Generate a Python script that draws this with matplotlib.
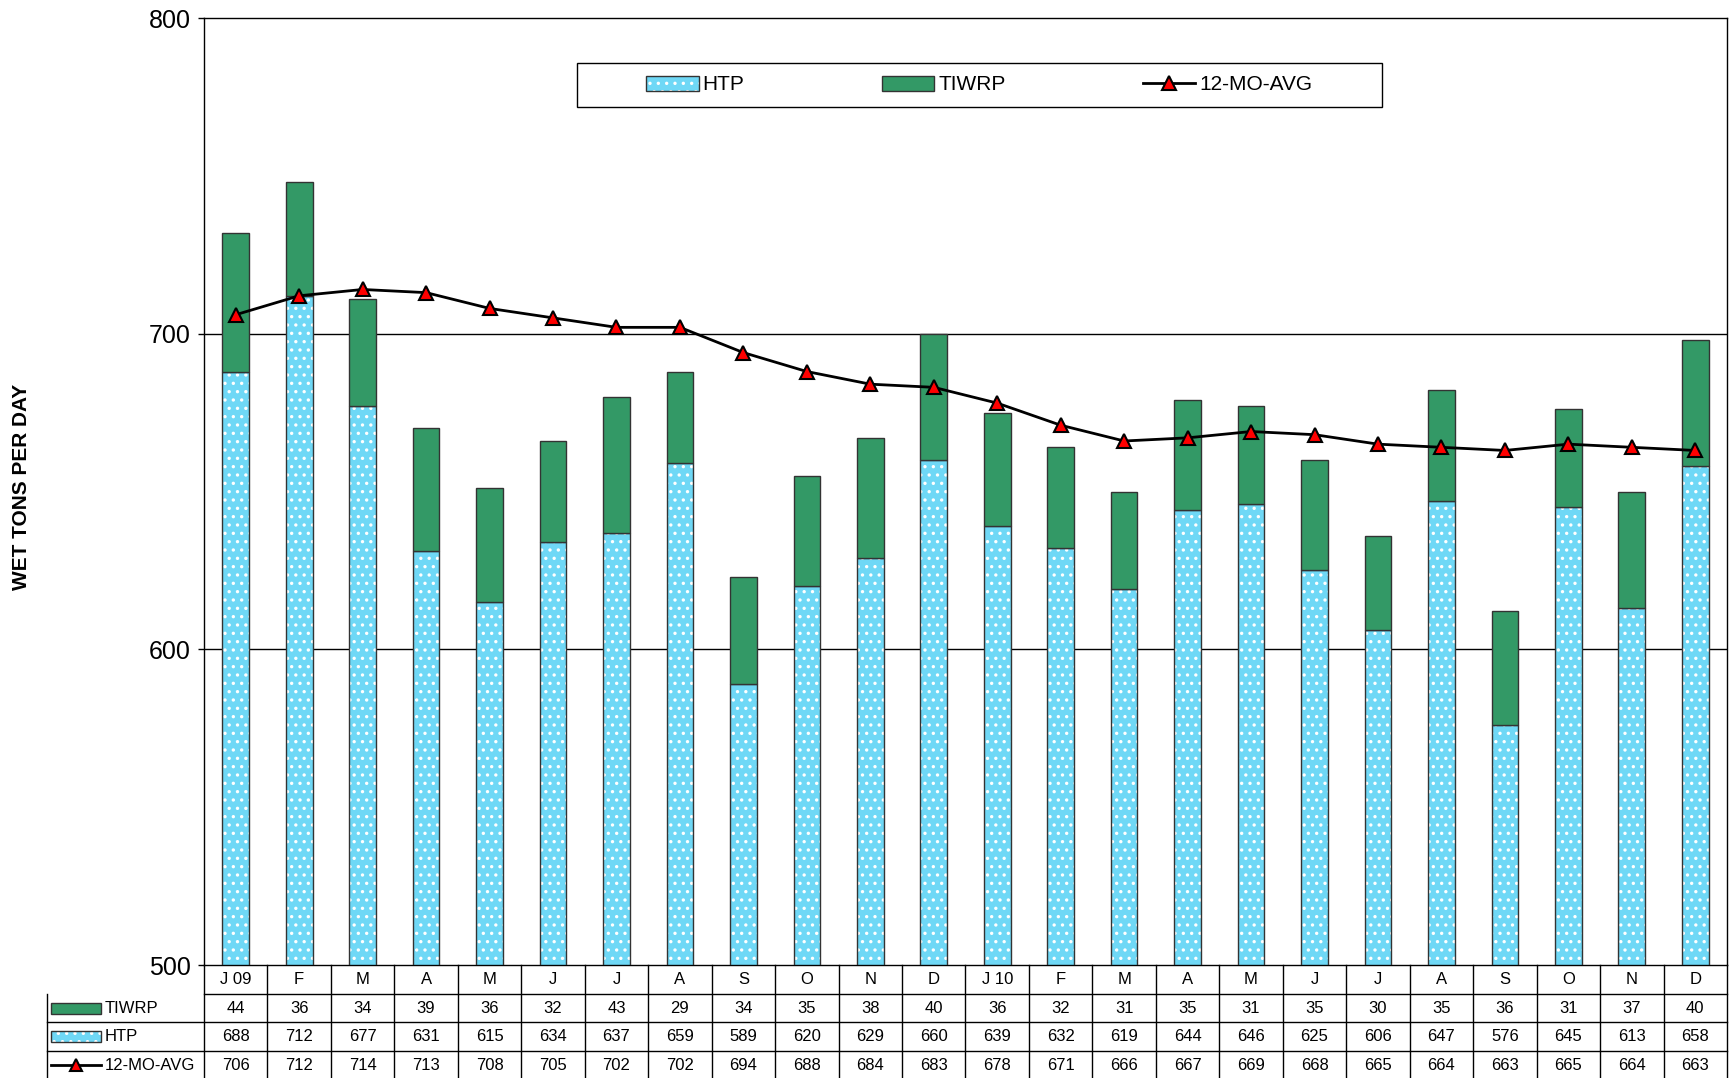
import numpy as np
import matplotlib
matplotlib.use('Agg')
import matplotlib.pyplot as plt
from matplotlib.patches import Rectangle
from matplotlib.lines import Line2D

#%% data
months = ['J 09', 'F', 'M', 'A', 'M', 'J', 'J', 'A', 'S', 'O', 'N', 'D',
          'J 10', 'F', 'M', 'A', 'M', 'J', 'J', 'A', 'S', 'O', 'N', 'D']
tiwrp = [44, 36, 34, 39, 36, 32, 43, 29, 34, 35, 38, 40,
         36, 32, 31, 35, 31, 35, 30, 35, 36, 31, 37, 40]
htp = [688, 712, 677, 631, 615, 634, 637, 659, 589, 620, 629, 660,
       639, 632, 619, 644, 646, 625, 606, 647, 576, 645, 613, 658]
avg12 = [706, 712, 714, 713, 708, 705, 702, 702, 694, 688, 684, 683,
         678, 671, 666, 667, 669, 668, 665, 664, 663, 665, 664, 663]
yticks = [500, 600, 700, 800]

#%% colours / styles
cHTP = '#6FD8F6'
cTIW = '#339966'
cEdge = '#333333'

plt.rcParams['font.family'] = ['Liberation Sans', 'DejaVu Sans']
plt.rcParams['hatch.linewidth'] = 1.2

W, H = 1731, 1078
fig = plt.figure(figsize=(W/100., H/100.), dpi=100)
ax = fig.add_axes([204./W, (H-965.)/H, (1727.-204.)/W, 947./H])

x = np.arange(len(months))
bw = 0.42

# HTP: hatched fill, then outline on top
b1 = ax.bar(x, htp, bw, color=cHTP, hatch='..', edgecolor='white', linewidth=0, zorder=2)
b1o = ax.bar(x, htp, bw, fill=False, edgecolor=cEdge, linewidth=1, zorder=3)
b2 = ax.bar(x, tiwrp, bw, bottom=htp, color=cTIW, edgecolor=cEdge, linewidth=1, zorder=3)
ln, = ax.plot(x, avg12, color='black', lw=2, marker='^', markersize=9.5,
              markerfacecolor='red', markeredgecolor='black', markeredgewidth=1.5, zorder=5)

ax.set_xlim(-0.5, len(months)-0.5)
ax.set_ylim(500, 800)
ax.set_yticks(yticks)
ax.set_yticklabels([str(v) for v in yticks], fontsize=18)
ax.tick_params(axis='y', direction='out', length=4.5, width=1, pad=5)
ax.set_xticks([])
for yv in yticks[1:-1]:
    ax.axhline(yv, color='black', lw=1, zorder=1)
for s in ax.spines.values():
    s.set_linewidth(1)
    s.set_color('black')

fig.text(22./W, 0.548, 'WET TONS PER DAY', rotation=90, ha='center', va='center',
         fontsize=15, fontweight='bold')

# legend: frame drawn separately, entries centred inside it
fx0, fx1 = (577.-204.)/1523., (1382.-204.)/1523.
fy0, fy1 = (965.-107.)/947., (965.-63.)/947.
ax.add_patch(Rectangle((fx0, fy0), fx1-fx0, fy1-fy0, transform=ax.transAxes,
                       facecolor='white', edgecolor='black', lw=1, zorder=6))
leg = ax.legend([(b1[0], b1o[0]), b2[0], ln], ['HTP', 'TIWRP', '12-MO-AVG'],
                loc='center', bbox_to_anchor=((fx0+fx1)/2, (fy0+fy1)/2),
                ncol=3, fontsize=15, frameon=False, columnspacing=6.6,
                handlelength=2.5, handleheight=0.75, handletextpad=0.2,
                borderaxespad=0)
leg.set_zorder(7)

#%% data table below the axes
rh = 28.7/947.
n = len(months)
tr = ax.transAxes
lx = -(204.-47.)/1523.  # left edge of row-label column
kw = dict(transform=tr, clip_on=False, color='black', lw=1)

# header row (month names)
for i, m in enumerate(months):
    ax.text((i+0.5)/n, -0.5*rh, m, transform=tr, ha='center', va='center', fontsize=12)
rows = [('TIWRP', tiwrp), ('HTP', htp), ('12-MO-AVG', avg12)]
for r, (lab, vals) in enumerate(rows):
    yc = -(r+1.5)*rh
    for i, v in enumerate(vals):
        ax.text((i+0.5)/n, yc, str(v), transform=tr, ha='center', va='center', fontsize=12)
    ax.text(lx + 58./1523., yc, lab, transform=tr, ha='left', va='center', fontsize=12)

# grid lines of the table
for k in range(1, 5):
    x0 = 0 if k == 1 else lx
    ax.add_line(Line2D([x0, 1], [-k*rh, -k*rh], **kw))
for i in range(n+1):
    ax.add_line(Line2D([i/n, i/n], [0, -4*rh], **kw))
ax.add_line(Line2D([lx, lx], [-rh, -4*rh], **kw))

# legend keys in the row-label cells
kx0 = lx + 4./1523.
kwid = 50./1523.
khh = 11./947.
ax.add_patch(Rectangle((kx0, -1.5*rh - khh/2), kwid, khh, transform=tr, clip_on=False,
                       facecolor=cTIW, edgecolor=cEdge, lw=1))
ax.add_patch(Rectangle((kx0, -2.5*rh - khh/2), kwid, khh, transform=tr, clip_on=False,
                       facecolor=cHTP, edgecolor='white', hatch='..', lw=0))
ax.add_patch(Rectangle((kx0, -2.5*rh - khh/2), kwid, khh, transform=tr, clip_on=False,
                       fill=False, edgecolor=cEdge, lw=1))
ax.add_line(Line2D([kx0, kx0+kwid/2, kx0+kwid], [-3.5*rh]*3, transform=tr, clip_on=False,
                   color='black', lw=2, marker='^', markersize=9, markevery=[1],
                   markerfacecolor='red', markeredgecolor='black', markeredgewidth=1.5))

fig.savefig('out.png', dpi=100)
